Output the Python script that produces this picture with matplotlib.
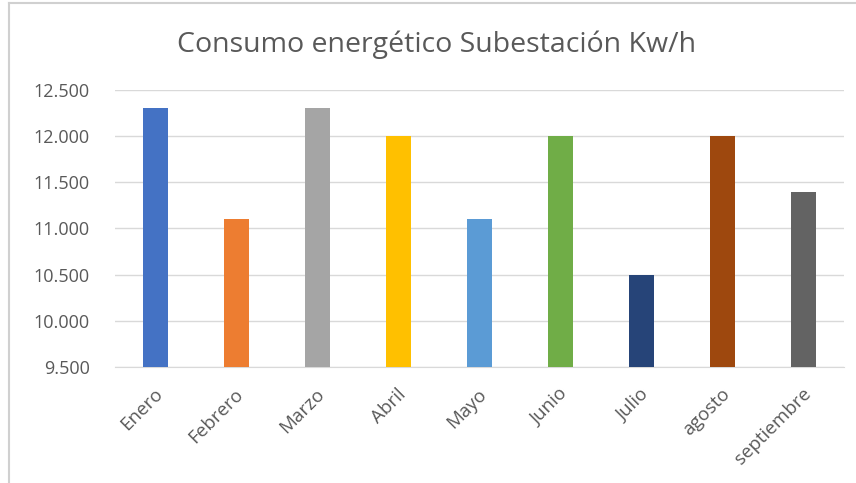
import matplotlib.pyplot as plt
from matplotlib.lines import Line2D
from matplotlib.ticker import FuncFormatter
from matplotlib.transforms import ScaledTranslation

meses = ['Enero', 'Febrero', 'Marzo', 'Abril', 'Mayo', 'Junio', 'Julio', 'agosto', 'septiembre']
consumo = [12300, 11100, 12300, 12000, 11100, 12000, 10500, 12000, 11400]
colores = ['#4472C4', '#ED7D31', '#A5A5A5', '#FFC000', '#5B9BD5',
           '#70AD47', '#264478', '#9E480E', '#636363']

plt.rcParams['font.family'] = ['Open Sans', 'DejaVu Sans']

fig = plt.figure(figsize=(8.56, 4.83), dpi=100)
# chart area border (only left and top are visible)
bx, by = 8.5 / 856, 1 - 3 / 483
fig.lines.append(Line2D([bx, 1], [by, by], transform=fig.transFigure,
                        color='#D0D0D0', linewidth=1.5))
fig.lines.append(Line2D([bx, bx], [0, by], transform=fig.transFigure,
                        color='#D0D0D0', linewidth=1.5))

ax = fig.add_axes([115 / 856, 1 - 367 / 483, 729 / 856, 277 / 483])
ax.bar(range(len(meses)), consumo, width=0.31, color=colores, zorder=3)
ax.set_ylim(9500, 12500)
ax.set_xlim(-0.5, len(meses) - 0.5)
ax.set_yticks(range(9500, 12501, 500))
ax.yaxis.set_major_formatter(FuncFormatter(lambda v, p: f'{int(v):,}'.replace(',', '.')))
ax.grid(axis='y', color='#D9D9D9', linewidth=1, zorder=0)
for s in ['top', 'right', 'left']:
    ax.spines[s].set_visible(False)
ax.spines['bottom'].set_color('#D9D9D9')
ax.tick_params(axis='both', length=0, colors='#595959', labelsize=13)
ax.tick_params(axis='y', pad=18)
ax.tick_params(axis='x', pad=0, labelsize=13.5)
ax.set_xticks(range(len(meses)))
ax.set_xticklabels(meses, rotation=45, ha='right', va='top', rotation_mode='anchor')
off = ScaledTranslation(-2 / 100, -18 / 100, fig.dpi_scale_trans)
for lbl in ax.get_xticklabels():
    lbl.set_transform(lbl.get_transform() + off)

fig.text(0.51, 1 - 45 / 483, 'Consumo energético Subestación Kw/h',
         ha='center', va='center', fontsize=20.5, color='#595959')

fig.savefig('out.png', dpi=100)
